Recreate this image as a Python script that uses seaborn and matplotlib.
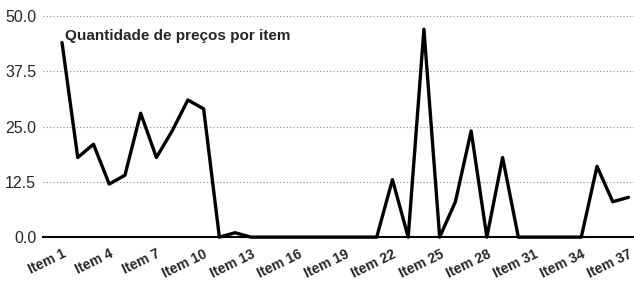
import matplotlib
matplotlib.use("Agg")
import matplotlib.pyplot as plt
import seaborn as sns
import pandas as pd

items = [f"Item {i}" for i in range(1, 38)]
values = [44, 18, 21, 12, 14, 28, 18, 24, 31, 29,
          0, 1, 0, 0, 0, 0, 0, 0, 0, 0, 0,
          13, 0, 47, 0, 8, 24, 0, 18, 0,
          0, 0, 0, 0, 16, 8, 9]
tick_labels = items[::3]
y_ticks = [0.0, 12.5, 25.0, 37.5, 50.0]
title = "Quantidade de preços por item"

sns.set_theme(style="white")
plt.rcParams['font.family'] = ['Liberation Sans', 'DejaVu Sans']

df = pd.DataFrame({"pos": range(len(items)), "item": items, "value": values})

fig = plt.figure(figsize=(6.34, 2.84), dpi=100)
ax = fig.add_axes([0.068, 0.165, 0.932, 0.779])
sns.lineplot(data=df, x="pos", y="value", ax=ax, color="black", linewidth=2.4, clip_on=False)

ax.set_xlim(-1.2, 36.35)
ax.set_ylim(0, 50)
ax.set_yticks(y_ticks)
ax.set_yticklabels([f"{v:.1f}" for v in y_ticks], fontsize=11.5)
ax.set_xticks(df["pos"][::3])
ax.set_xticklabels(tick_labels, rotation=26, ha="right", rotation_mode="anchor",
                   fontsize=10, fontweight="bold")
ax.tick_params(axis="y", length=0, pad=5)
ax.tick_params(axis="x", length=0, pad=7)
ax.set_xlabel("")
ax.set_ylabel("")
for s in ["left", "right", "top"]:
    ax.spines[s].set_visible(False)
ax.spines["bottom"].set_color("black")
ax.spines["bottom"].set_linewidth(1.5)
ax.yaxis.grid(True, linestyle=(0, (1, 2)), color="#888888", linewidth=0.8)
ax.xaxis.grid(False)
ax.set_axisbelow(True)
ax.text(0.037, 0.91, title, transform=ax.transAxes, ha="left", va="center",
        fontsize=11, fontweight="bold")

fig.savefig("out.png", dpi=100)
